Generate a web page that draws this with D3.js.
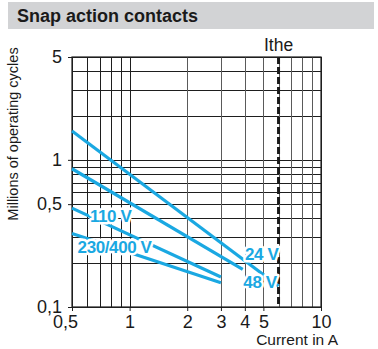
<!DOCTYPE html>
<html>
<head>
<meta charset="utf-8">
<script src="https://cdn.jsdelivr.net/npm/d3@7"></script>
<style>
  html, body { margin: 0; padding: 0; background: #fff; }
  svg { display: block; font-family: "Liberation Sans", Arial, Helvetica, sans-serif; }
</style>
</head>
<body>
<svg id="chart" width="378" height="349"></svg>
<script>
// Electrical durability of snap action contacts (log-log)
const title = "Snap action contacts";
const yTitle = "Millions of operating cycles";
const xTitle = "Current in A";

const xTickValues = [0.5, 1, 2, 3, 4, 5, 10];
const xTickLabels = ["0,5", "1", "2", "3", "4", "5", "10"];
const xGridValues = [0.5, 0.6, 0.7, 0.8, 0.9, 1, 2, 3, 4, 5, 6, 7, 8, 9, 10];

const yTickValues = [0.1, 0.5, 1, 5];
const yTickLabels = ["0,1", "0,5", "1", "5"];
const yGridValues = [0.1, 0.2, 0.3, 0.4, 0.5, 0.6, 0.7, 0.8, 0.9, 1, 2, 3, 4, 5];

const ithe = 6; // conventional thermal current, A

// Curves: [current A, millions of cycles]
const series24V = [[0.5, 1.57], [6, 0.139]];
const series48V = [[0.5, 0.87], [3.9, 0.18]];
const series110V = [[0.5, 0.47], [3, 0.16]];
const series230V = [[0.5, 0.316], [3, 0.146]];

const seriesLabels = [
  { text: "24 V", x: 4.01, y: 0.209 },
  { text: "48 V", x: 3.93, y: 0.135 },
  { text: "110 V", x: 0.62, y: 0.378 },
  { text: "230/400 V", x: 0.535, y: 0.232 }
];

const svg = d3.select("#chart");
const blue = "#1aa8e2";
const ink = "#1e1e1e";

// Header band
svg.append("rect").attr("x", 8).attr("y", 2).attr("width", 366).attr("height", 27).attr("fill", "#d2d3d5");
svg.append("text").attr("x", 17).attr("y", 22).attr("font-size", 18).attr("font-weight", "bold")
  .attr("fill", "#1a1a1a").text(title);

const x = d3.scaleLog().domain([0.5, 10]).range([72, 321]);
const y = d3.scaleLog().domain([0.1, 5]).range([307, 57]);

const plot = svg.append("g");

// Grid
plot.selectAll(".gy").data(yGridValues).join("line")
  .attr("x1", x(0.5)).attr("x2", x(10))
  .attr("y1", d => Math.round(y(d)) + 0.5).attr("y2", d => Math.round(y(d)) + 0.5)
  .attr("stroke", ink).attr("stroke-width", 1);
plot.selectAll(".gx").data(xGridValues).join("line")
  .attr("x1", d => Math.round(x(d)) + 0.5).attr("x2", d => Math.round(x(d)) + 0.5)
  .attr("y1", y(5)).attr("y2", y(0.1))
  .attr("stroke", d => (d >= 2 && d < 10) ? "#5a5a5a" : ink).attr("stroke-width", 1);

// Axes ticks and labels
const xAxis = d3.axisBottom(x).tickValues(xTickValues)
  .tickFormat((d, i) => xTickLabels[i]).tickSize(4).tickSizeOuter(0);
const gx = svg.append("g").attr("transform", `translate(0,${y(0.1)})`).call(xAxis);
gx.select(".domain").attr("stroke", ink);
gx.selectAll(".tick line").attr("stroke", ink);
gx.selectAll(".tick text").attr("font-size", 18).attr("fill", "#1a1a1a")
  .attr("font-family", "Liberation Sans, Arial, sans-serif").attr("dy", "0.78em").attr("y", 7);
gx.selectAll(".tick").filter(d => d === 0.5).select("text").attr("dx", -7);

const yAxis = d3.axisLeft(y).tickValues(yTickValues)
  .tickFormat((d, i) => yTickLabels[i]).tickSize(4).tickSizeOuter(0);
const gy = svg.append("g").attr("transform", `translate(${x(0.5)},0)`).call(yAxis);
gy.select(".domain").attr("stroke", ink);
gy.selectAll(".tick line").attr("stroke", ink);
gy.selectAll(".tick text").attr("font-size", 18).attr("fill", "#1a1a1a")
  .attr("font-family", "Liberation Sans, Arial, sans-serif").attr("x", -10);

// Frame
svg.append("rect").attr("x", x(0.5)).attr("y", y(5)).attr("width", x(10) - x(0.5)).attr("height", y(0.1) - y(5))
  .attr("fill", "none").attr("stroke", ink).attr("stroke-width", 1.2);

// Ithe marker
svg.append("line").attr("x1", x(ithe)).attr("x2", x(ithe)).attr("y1", y(5)).attr("y2", y(0.1))
  .attr("stroke", "#1a1a1a").attr("stroke-width", 3).attr("stroke-dasharray", "7,3");
svg.append("text").attr("x", x(ithe)).attr("y", 51).attr("text-anchor", "middle")
  .attr("font-size", 17.5).attr("fill", "#1a1a1a").text("Ithe");

// Curves
const line = d3.line().x(d => x(d[0])).y(d => y(d[1]));
[series24V, series48V, series110V, series230V].forEach(s => {
  svg.append("path").attr("d", line(s)).attr("fill", "none")
    .attr("stroke", blue).attr("stroke-width", 3.2).attr("stroke-linecap", "butt");
});

// Curve labels with white halo
svg.selectAll(".lbl").data(seriesLabels).join("text")
  .attr("x", d => x(d.x)).attr("y", d => y(d.y))
  .attr("font-size", 17).attr("font-weight", "bold").attr("letter-spacing", -0.4)
  .attr("fill", blue).attr("stroke", "#fff").attr("stroke-width", 5)
  .attr("stroke-linejoin", "round").attr("paint-order", "stroke")
  .text(d => d.text);

// Axis titles
svg.append("text").attr("transform", "translate(18,134) rotate(-90)").attr("text-anchor", "middle")
  .attr("font-size", 14.5).attr("fill", "#1a1a1a").text(yTitle);
svg.append("text").attr("x", 338).attr("y", 345).attr("text-anchor", "end")
  .attr("font-size", 15.5).attr("fill", "#1a1a1a").text(xTitle);
</script>
</body>
</html>
